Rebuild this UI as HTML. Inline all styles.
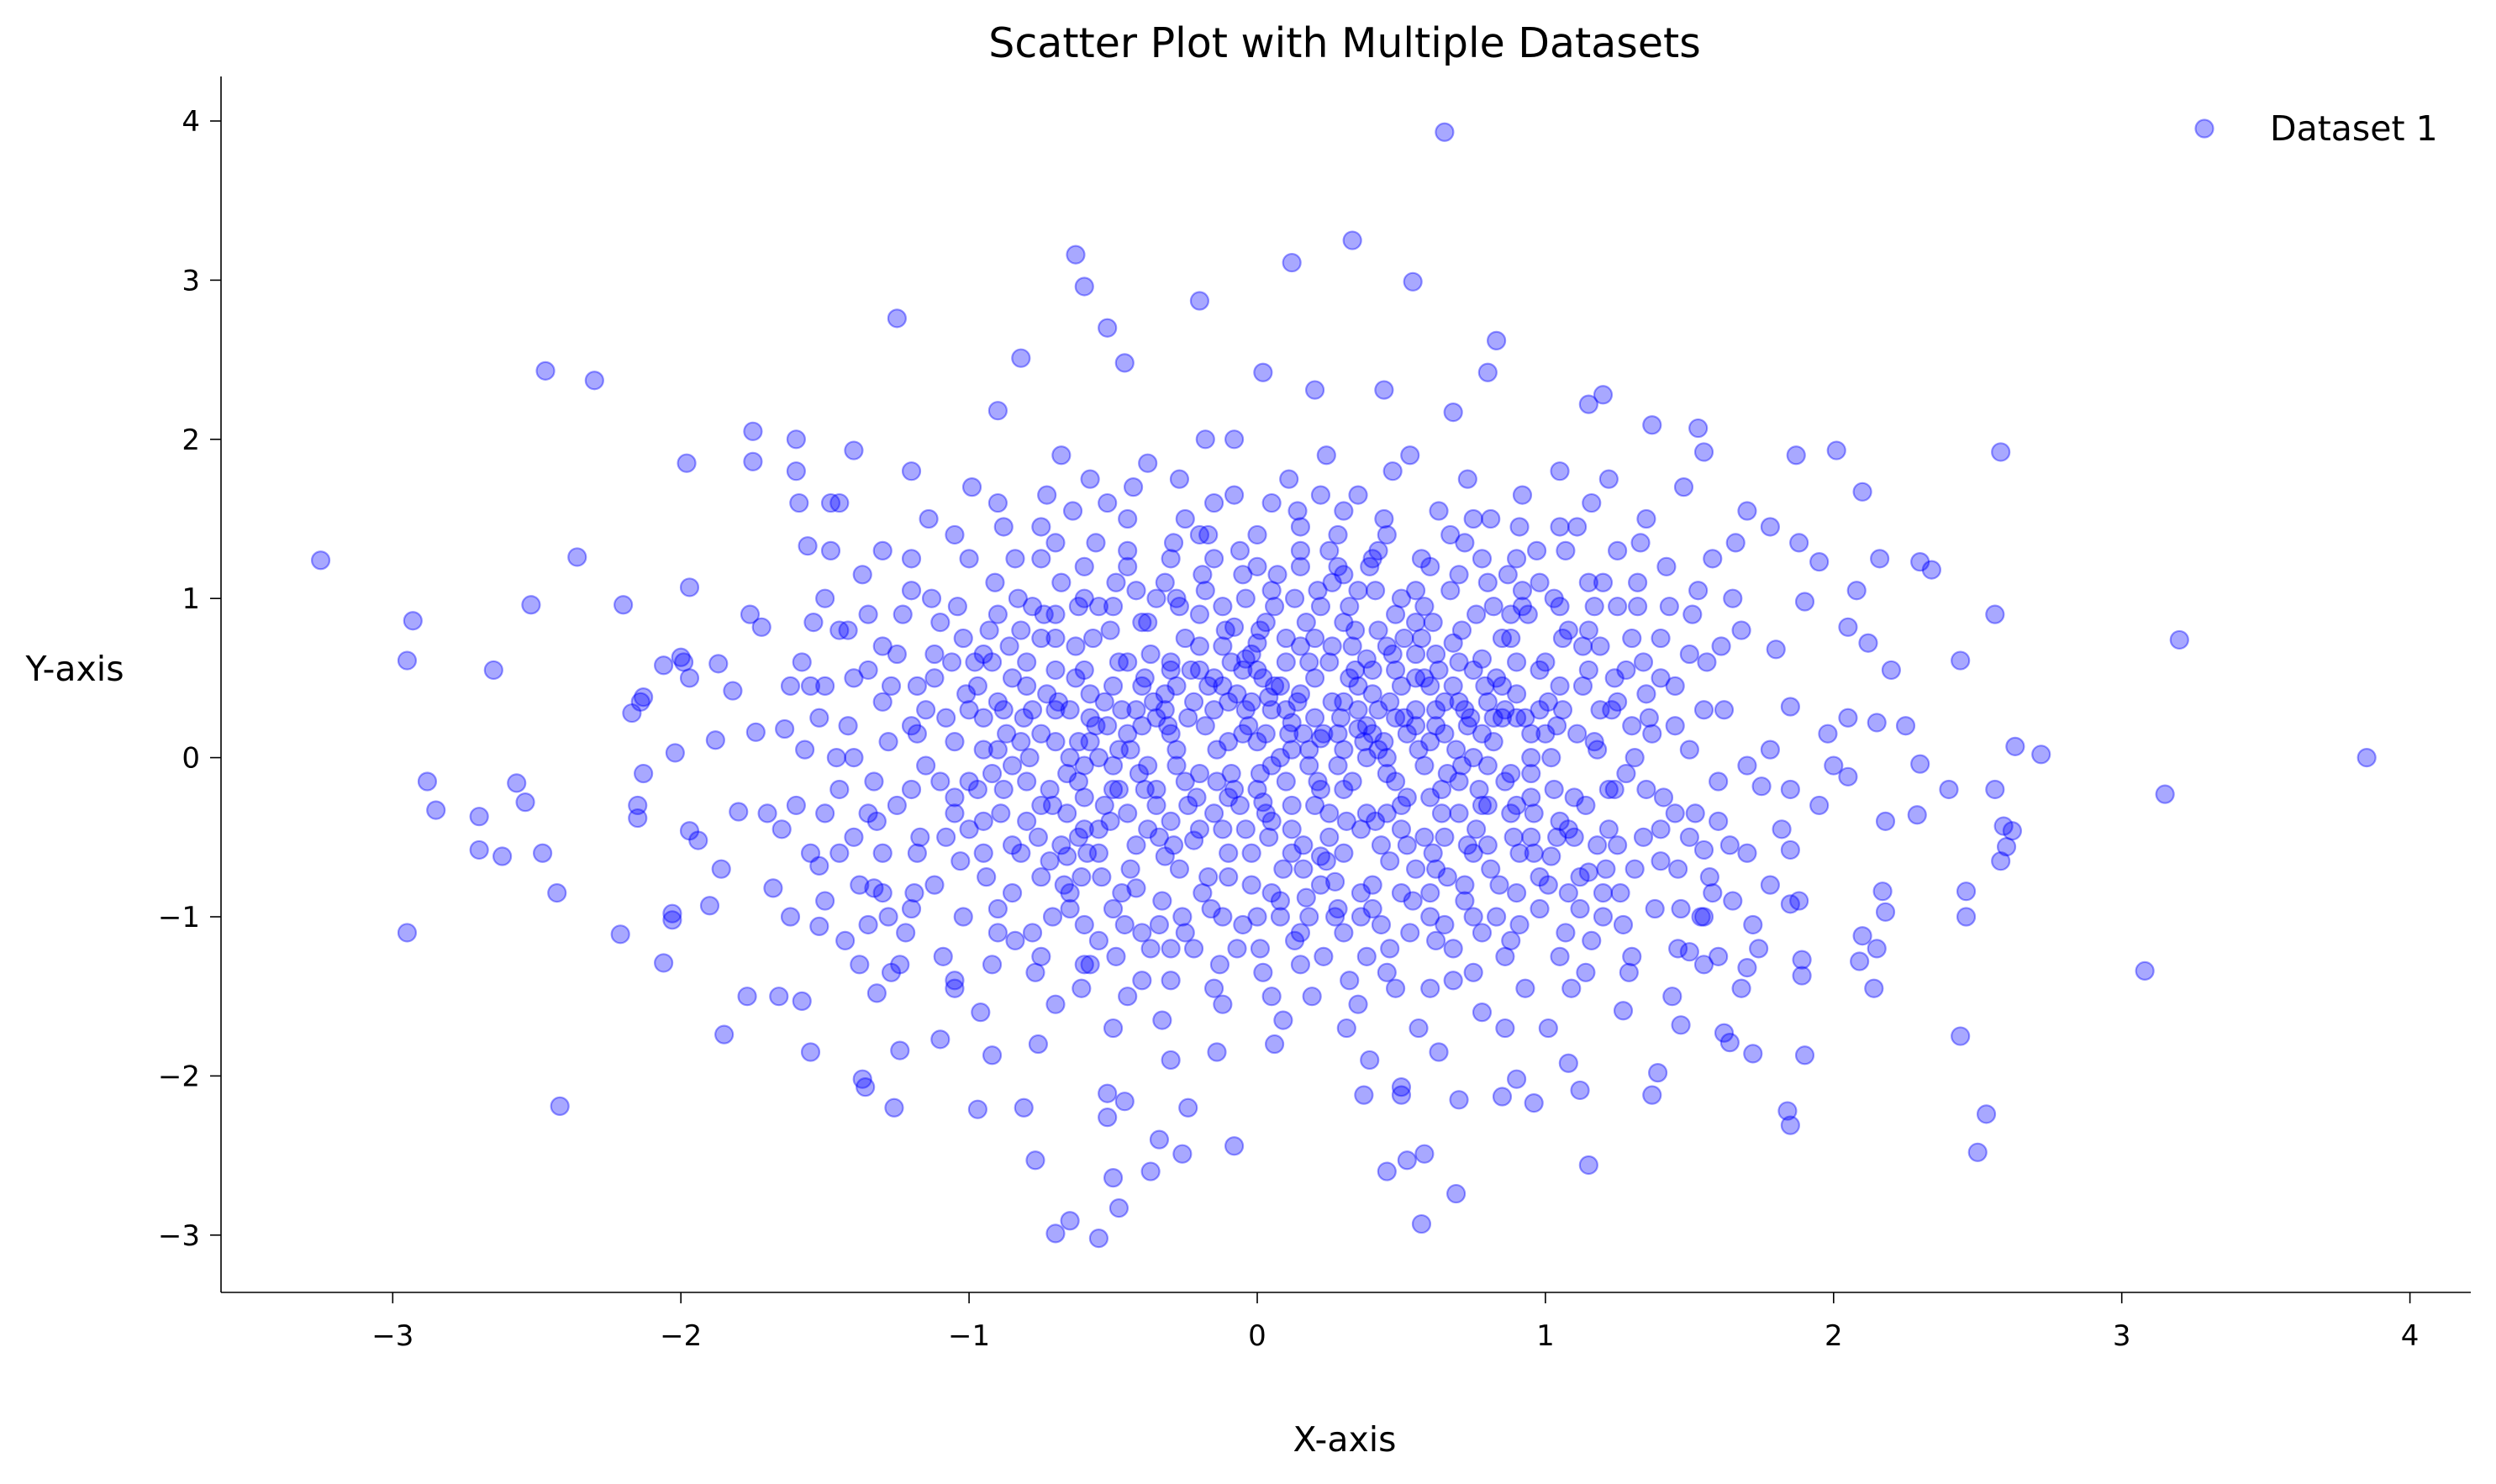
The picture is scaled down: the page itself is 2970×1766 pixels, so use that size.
<!DOCTYPE html>
<html><head><meta charset="utf-8"><style>
html,body{margin:0;padding:0;background:#fff;}
svg{display:block;font-family:"DejaVu Sans","Liberation Sans",sans-serif;}
</style></head><body>
<svg id="chart" width="2970" height="1766" viewBox="0 0 2970 1766">
<rect width="2970" height="1766" fill="#fff"/>
<g id="points"></g>
<g id="axes"></g>
</svg>
<script>
const xTicks=[-3,-2,-1,0,1,2,3,4];
const yTicks=[-3,-2,-1,0,1,2,3,4];
const seriesName="Dataset 1";
const outlierPts=[[-3.25,1.24],[-2.93,0.86],[-2.95,0.61],[-2.88,-0.15],[-2.85,-0.33],[-2.95,-1.1],[-2.7,-0.37],[-2.7,-0.58],[-2.65,0.55],[-2.62,-0.62],[-2.57,-0.16],[-2.54,-0.28],[-2.52,0.96],[-2.48,-0.6],[-2.47,2.43],[-2.43,-0.85],[-2.42,-2.19],[-2.36,1.26],[-2.3,2.37],[-2.2,0.96],[-2.21,-1.11],[-2.17,0.28],[-2.14,0.35],[-2.13,0.38],[-2.15,-0.3],[-2.15,-0.38],[-2.13,-0.1],[-2.06,0.58],[-2.06,-1.29],[-2.03,-1.02],[-2.03,-0.98],[-2.02,0.03],[-2.0,0.63],[-1.99,0.6],[-1.98,1.85],[-1.97,1.07],[-1.97,0.5],[-1.97,-0.46],[-1.94,-0.52],[-1.9,-0.93],[-1.88,0.11],[-1.87,0.59],[-1.86,-0.7],[-1.85,-1.74],[-1.82,0.42],[-1.8,-0.34],[-1.77,-1.5],[-1.76,0.9],[-1.75,2.05],[-1.75,1.86],[-1.74,0.16],[-1.72,0.82],[-1.7,-0.35],[-1.68,-0.82],[-1.66,-1.5],[-1.64,0.18],[-1.62,0.45],[-1.6,1.8],[-1.6,2.0],[-1.59,1.6],[-1.58,-1.53],[-1.56,1.33],[-1.55,-1.85],[-1.52,-0.68],[-1.52,-1.06],[-1.48,1.6],[-1.45,1.6],[-1.4,1.93],[-1.38,-1.3],[-1.36,-2.07],[-1.37,-2.02],[-1.32,-1.48],[-1.33,-0.82],[-1.25,2.76],[-1.27,-1.35],[-1.26,-2.2],[-1.24,-1.84],[-1.2,1.8],[-1.18,-0.6],[-1.1,-1.77],[-1.05,-1.4],[-0.97,-2.21],[-0.92,-1.87],[-0.9,2.18],[-0.82,2.51],[-0.81,-2.2],[-0.77,-2.53],[-0.7,-2.99],[-0.65,-2.91],[-0.55,-3.02],[-0.52,-2.11],[-0.52,-2.26],[-0.5,-2.64],[-0.48,-2.83],[-0.46,-2.16],[-0.37,-2.6],[-0.34,-2.4],[-0.26,-2.49],[-0.24,-2.2],[-0.08,-2.44],[-0.63,3.16],[-0.6,2.96],[-0.52,2.7],[-0.46,2.48],[-0.2,2.87],[0.12,3.11],[0.33,3.25],[0.54,2.99],[0.65,3.93],[0.02,2.42],[0.2,2.31],[0.44,2.31],[0.68,2.17],[0.8,2.42],[0.83,2.62],[1.15,2.22],[1.2,2.28],[1.37,2.09],[1.53,2.07],[1.55,1.92],[2.01,1.93],[1.87,1.9],[2.1,1.67],[2.58,1.92],[2.16,1.25],[2.3,1.23],[2.34,1.18],[2.08,1.05],[2.56,0.9],[3.2,0.74],[2.44,0.61],[2.63,0.07],[2.72,0.02],[3.85,0.0],[3.15,-0.23],[2.56,-0.2],[2.59,-0.43],[2.62,-0.46],[2.6,-0.56],[2.58,-0.65],[2.46,-0.84],[2.46,-1.0],[3.08,-1.34],[2.44,-1.75],[2.53,-2.24],[2.5,-2.48],[2.29,-0.36],[2.4,-0.2],[2.3,-0.04],[2.18,-0.4],[2.17,-0.84],[2.18,-0.97],[2.1,-1.12],[2.09,-1.28],[2.14,-1.45],[2.15,-1.2],[1.9,-1.87],[1.84,-2.22],[1.85,-2.31],[1.89,-1.37],[1.89,-1.27],[1.72,-1.86],[1.62,-1.73],[1.64,-1.79],[1.15,-2.56],[1.27,-1.59],[1.39,-1.98],[1.37,-2.12],[1.47,-1.68],[0.69,-2.74],[0.57,-2.93],[0.45,-2.6],[0.52,-2.53],[0.58,-2.49],[0.96,-2.17],[1.12,-2.09],[1.08,-1.92],[0.9,-2.02],[0.85,-2.13],[0.7,-2.15],[0.37,-2.12],[0.5,-2.07],[0.5,-2.12],[2.05,0.82],[2.2,0.55],[2.12,0.72],[2.15,0.22],[2.25,0.2],[2.05,0.25],[1.98,0.15],[2.0,-0.05],[2.05,-0.12],[1.95,-0.3],[1.9,0.98],[1.88,1.35],[1.95,1.23],[1.78,1.45],[1.7,1.55],[1.65,1.0],[1.8,0.68],[1.85,0.32],[1.78,0.05],[1.75,-0.18],[1.85,-0.2],[1.82,-0.45],[1.85,-0.58],[1.78,-0.8],[1.85,-0.92],[1.88,-0.9],[1.74,-1.2],[1.7,-1.32],[1.68,-1.45],[1.6,-1.25],[1.55,-1.3],[1.5,-1.22],[1.55,-0.58],[1.58,-0.85],[1.65,-0.9],[1.7,-0.6]];
const corePts=[[-1.5,1.0],[-1.45,0.8],[-1.4,0.5],[-1.42,0.2],[-1.45,-0.2],[-1.4,-0.5],[-1.38,-0.8],[-1.35,-1.05],[-1.3,1.3],[-1.3,0.7],[-1.28,0.1],[-1.25,-0.3],[-1.22,-1.1],[-1.2,1.05],[-1.18,0.45],[-1.15,-0.05],[-1.12,-0.8],[-1.1,0.85],[-1.08,0.25],[-1.05,-0.35],[-1.02,-1.0],[-1.0,1.25],[-0.98,0.6],[-0.95,0.05],[-0.95,-0.6],[-0.92,-1.3],[-0.9,1.6],[-0.9,0.35],[-0.88,-0.2],[-0.85,-0.85],[-0.83,1.0],[-0.8,0.45],[-0.8,-0.4],[-0.78,-1.1],[-0.75,1.45],[-0.75,0.15],[-0.72,-0.65],[-0.7,-1.55],[-0.7,0.75],[-0.68,1.9],[-0.66,-0.1],[-0.65,-0.95],[-0.63,0.5],[-0.6,1.2],[-0.6,-0.45],[-0.58,-1.3],[-0.56,0.2],[-0.55,0.95],[-0.54,-0.75],[-0.52,1.6],[-0.5,-0.2],[-0.5,-1.7],[-0.48,0.6],[-0.46,-1.05],[-0.45,1.3],[-0.44,0.05],[-0.42,-0.55],[-0.4,0.85],[-0.4,-1.4],[-0.38,1.85],[-0.36,0.35],[-0.35,-0.3],[-0.33,-0.9],[-0.32,1.1],[-0.3,-1.9],[-0.3,0.6],[-0.28,-0.05],[-0.27,-0.7],[-0.25,1.5],[-0.24,0.25],[-0.22,-1.2],[-0.2,0.9],[-0.2,-0.45],[-0.18,2.0],[-0.17,0.45],[-0.16,-0.95],[-0.15,1.25],[-0.14,-0.15],[-0.12,-1.55],[-0.12,0.7],[-0.1,0.1],[-0.1,-0.6],[-0.08,1.65],[-0.07,0.4],[-0.06,-0.3],[-0.05,-1.05],[-0.04,1.0],[-0.03,0.2],[-0.02,-0.8],[0.0,1.4],[0.0,0.55],[0.01,-0.1],[0.02,-1.35],[0.03,0.85],[0.04,-0.5],[0.05,0.3],[0.06,-1.8],[0.07,1.15],[0.08,0.0],[0.09,-0.7],[0.1,0.6],[0.11,1.75],[0.12,-0.3],[0.13,-1.15],[0.14,0.35],[0.15,1.3],[0.16,-0.55],[0.17,0.85],[0.18,-0.05],[0.19,-1.5],[0.2,0.5],[0.21,1.05],[0.22,-0.8],[0.23,0.15],[0.24,1.9],[0.25,-0.35],[0.26,0.7],[0.27,-1.0],[0.28,1.4],[0.29,0.25],[0.3,-0.6],[0.31,-1.7],[0.32,0.95],[0.33,-0.15],[0.34,0.55],[0.35,1.65],[0.36,-0.85],[0.37,0.1],[0.38,-1.25],[0.39,1.2],[0.4,0.4],[0.41,-0.4],[0.42,0.8],[0.43,-1.05],[0.44,1.5],[0.45,0.0],[0.46,-0.65],[0.47,0.65],[0.48,-1.45],[0.5,1.0],[0.51,0.25],[0.52,-0.25],[0.53,1.9],[0.54,-0.9],[0.55,0.5],[0.56,-1.7],[0.57,1.25],[0.58,-0.5],[0.6,0.1],[0.61,0.85],[0.62,-1.15],[0.63,1.55],[0.64,-0.2],[0.65,0.35],[0.66,-0.75],[0.67,1.05],[0.68,-1.4],[0.7,0.6],[0.71,-0.05],[0.72,1.35],[0.73,-0.55],[0.74,0.25],[0.75,-1.0],[0.76,0.9],[0.78,-1.6],[0.79,0.45],[0.8,-0.3],[0.81,1.5],[0.82,0.1],[0.84,-0.8],[0.85,0.75],[0.86,-1.25],[0.87,1.15],[0.88,-0.1],[0.9,0.4],[0.91,-0.6],[0.92,1.65],[0.93,-1.45],[0.94,0.9],[0.95,0.15],[0.96,-0.35],[0.97,1.3],[0.98,-0.95],[1.0,0.6],[1.01,-1.7],[1.02,0.0],[1.03,1.0],[1.04,-0.5],[1.05,1.8],[1.06,0.3],[1.07,-1.1],[1.08,0.8],[1.1,-0.25],[1.11,1.45],[1.12,-0.75],[1.13,0.45],[1.14,-1.35],[1.15,1.1],[1.17,0.1],[1.18,-0.55],[1.19,0.7],[1.2,-1.0],[1.22,1.75],[1.23,0.3],[1.24,-0.2],[1.25,1.3],[1.26,-0.85],[1.28,0.55],[1.3,-1.25],[1.31,0.0],[1.32,0.95],[1.34,-0.5],[1.35,1.5],[1.36,0.25],[1.38,-0.95],[1.4,0.75],[1.41,-0.25],[1.42,1.2],[1.44,-1.5],[1.45,0.45],[1.46,-0.7],[1.48,1.7],[1.5,0.05],[1.51,0.9],[1.52,-0.35],[1.54,-1.0],[1.56,0.6],[1.58,1.25],[1.6,-0.15],[1.62,0.3],[1.64,-0.55],[1.66,1.35],[1.68,0.8],[1.7,-0.05],[1.72,-1.05],[-1.6,-0.3],[-1.58,0.6],[-1.55,-0.6],[-1.52,0.25],[-1.5,-0.9],[-1.48,1.3],[-1.46,0.0],[-1.35,0.9],[-1.33,-0.15],[-1.3,-0.6],[-1.27,0.45],[-1.24,-1.3],[-1.2,0.2],[-1.17,-0.5],[-1.14,1.5],[-1.1,-0.15],[-1.06,0.6],[-1.03,-0.65],[-0.99,1.7],[-0.97,-0.2],[-0.93,0.8],[-0.9,-0.95],[-0.87,0.15],[-0.84,1.25],[-0.82,-0.6],[-0.79,0.0],[-0.77,-1.35],[-0.74,0.9],[-0.71,-0.3],[-0.69,0.35],[-0.67,-0.8],[-0.64,1.55],[-0.62,0.1],[-0.59,-0.6],[-0.57,0.75],[-0.55,-1.15],[-0.53,0.35],[-0.51,-0.4],[-0.49,1.1],[-0.47,-0.85],[-0.45,0.15],[-0.43,1.7],[-0.41,-0.1],[-0.39,0.5],[-0.37,-1.2],[-0.35,1.0],[-0.34,-0.5],[-0.31,0.2],[-0.29,1.35],[-0.26,-1.0],[-0.23,0.55],[-0.21,-0.25],[-0.19,1.15],[-0.17,-0.75],[-0.15,0.3],[-0.13,-1.3],[-0.11,0.8],[-0.09,-0.1],[-0.06,1.3],[-0.04,-0.45],[-0.02,0.65],[0.01,-1.2],[0.03,0.15],[0.06,0.95],[0.08,-0.9],[0.1,0.3],[0.12,-0.45],[0.14,1.55],[0.16,0.15],[0.18,-1.0],[0.2,0.75],[0.22,-0.2],[0.24,-0.65],[0.26,1.1],[0.28,-0.05],[0.3,0.35],[0.32,-1.4],[0.34,0.8],[0.36,-0.45],[0.38,0.2],[0.4,-0.8],[0.42,1.3],[0.44,0.1],[0.46,-1.2],[0.48,0.9],[0.5,-0.45],[0.52,0.15],[0.55,-0.7],[0.57,0.75],[0.6,-1.0],[0.62,0.3],[0.64,-0.35],[0.67,1.4],[0.69,0.05],[0.72,-0.8],[0.75,0.55],[0.77,-0.2],[0.8,1.1],[0.83,-1.0],[0.86,0.3],[0.89,-0.5],[0.92,0.95],[0.95,-0.1],[0.98,0.55],[1.01,-0.8],[1.04,0.2],[1.07,1.3],[1.1,-0.5],[1.13,0.7],[1.16,-1.15],[1.19,0.3],[1.22,-0.45],[1.25,0.95],[1.28,-0.1],[1.31,-0.7],[1.34,0.6],[1.37,0.15],[1.4,-0.45],[1.43,0.95],[1.46,-1.2],[-0.02,0.35],[0.0,-0.2],[0.02,0.5],[-0.05,0.15],[0.05,-0.05],[0.15,0.4],[-0.15,0.5],[0.25,0.6],[-0.25,-0.15],[0.35,0.3],[-0.35,0.25],[0.45,-0.1],[-0.45,-0.35],[0.55,0.2],[-0.55,0.0],[0.65,-0.5],[-0.65,0.3],[0.75,0.0],[-0.75,-0.3],[0.85,0.25],[-0.85,0.5],[0.95,-0.25],[-0.95,0.25],[1.05,0.45],[-1.05,0.1],[0.2,-0.3],[-0.2,0.7],[0.3,0.05],[-0.3,-0.4],[0.1,0.75],[-0.1,-0.75],[0.4,0.55],[-0.4,0.2],[0.5,-0.3],[-0.5,0.45],[0.6,0.45],[-0.6,-0.25],[0.7,-0.35],[-0.7,0.55],[0.8,0.35],[-0.8,-0.15],[0.9,-0.3],[-0.9,0.05],[1.0,0.15],[-1.0,-0.45],[-1.65,-0.45],[-1.62,-1.0],[-1.57,0.05],[-1.54,0.85],[-1.43,-1.15],[-1.37,1.15],[-1.32,-0.4],[-1.23,0.9],[-1.19,-0.85],[-1.13,1.0],[-1.09,-1.25],[-1.01,0.4],[-0.96,-1.6],[-0.88,1.45],[-0.76,-1.8],[-0.73,1.65],[-0.61,-1.45],[-0.58,1.75],[-0.33,-1.65],[-0.27,1.75],[-0.14,-1.85],[-0.08,2.0],[0.09,-1.65],[0.22,1.65],[0.39,-1.9],[0.47,1.8],[0.63,-1.85],[0.73,1.75],[0.86,-1.7],[0.91,1.45],[1.09,-1.45],[1.16,1.6],[1.29,-1.35],[1.33,1.35],[1.47,-0.95],[1.53,1.05],[1.57,-0.75],[1.61,0.7]];
const densePts=[[-1.15,0.3],[-1.12,0.65],[-1.08,-0.5],[-1.04,0.95],[-1.0,-0.15],[-0.97,0.45],[-0.94,-0.75],[-0.91,1.1],[-0.89,-0.35],[-0.86,0.7],[-0.84,-1.15],[-0.81,0.25],[-0.78,0.95],[-0.76,-0.5],[-0.73,0.4],[-0.71,-1.0],[-0.68,1.1],[-0.66,-0.35],[-0.63,0.7],[-0.61,-0.75],[-0.58,0.4],[-0.56,1.35],[-0.53,-0.3],[-0.51,0.8],[-0.49,-1.25],[-0.47,0.3],[-0.44,-0.7],[-0.42,1.05],[-0.39,-0.2],[-0.37,0.65],[-0.34,-1.05],[-0.32,0.4],[-0.29,-0.55],[-0.27,0.95],[-0.24,-0.3],[-0.22,0.35],[-0.19,-0.85],[-0.17,1.4],[-0.14,0.05],[-0.12,-0.45],[-0.09,0.6],[-0.07,-1.2],[-0.04,0.3],[-0.02,-0.6],[0.01,0.8],[0.03,-0.35],[0.06,0.45],[0.08,-1.0],[0.11,0.15],[0.13,1.0],[0.16,-0.7],[0.18,0.6],[0.21,-0.15],[0.23,-1.25],[0.26,0.35],[0.28,1.2],[0.31,-0.4],[0.33,0.7],[0.36,-1.0],[0.38,0.0],[0.41,1.05],[0.43,-0.55],[0.46,0.35],[0.48,-0.15],[0.51,0.75],[0.53,-1.1],[0.56,0.05],[0.58,0.95],[0.61,-0.6],[0.63,0.55],[0.66,-0.1],[0.68,-1.2],[0.71,0.8],[0.73,0.2],[0.76,-0.45],[0.78,1.25],[0.81,-0.7],[0.83,0.5],[0.86,-0.15],[0.88,0.9],[0.91,-1.05],[0.93,0.25],[0.96,-0.6],[0.98,1.1],[1.01,0.35],[1.03,-0.2],[1.06,0.75],[1.08,-0.85],[1.11,0.15],[1.14,-0.3],[1.17,0.95],[1.21,-0.7],[1.24,0.5],[1.27,-1.05],[1.3,0.2],[-0.3,0.15],[-0.2,-0.1],[-0.1,0.35],[0.0,0.1],[0.1,-0.15],[0.2,0.25],[0.3,-0.2],[0.4,0.15],[0.5,0.45],[0.6,-0.25],[-0.4,0.45],[-0.5,-0.05],[-0.6,0.55],[-0.7,0.1],[-0.8,0.6],[0.7,0.35],[0.8,-0.05],[0.9,0.6],[-0.25,0.75],[-0.15,-0.35],[-0.05,0.55],[0.05,-0.4],[0.15,0.7],[0.25,-0.5],[0.35,0.45],[0.45,-0.35],[0.55,0.65],[0.65,0.15],[-0.35,-0.2],[-0.45,0.6],[-0.55,-0.45],[-0.65,0.0],[-0.75,0.75],[-0.85,-0.05],[-0.95,0.65],[0.75,-0.6],[0.85,0.45],[0.95,0.0],[1.05,-0.4],[1.15,0.55],[-0.18,0.2],[0.18,0.05],[-0.08,-0.2],[0.08,0.45],[0.28,0.15],[-0.28,0.45],[0.38,-0.35],[-0.38,-0.45],[0.48,0.25],[-0.48,0.05],[0.58,-0.05],[-0.58,0.25],[0.68,0.45],[-0.68,-0.55],[0.78,0.15],[-0.78,0.3],[0.88,-0.35],[-0.88,0.3],[-1.2,-0.2],[-1.3,0.35],[-1.4,0.0],[-1.35,-0.35],[-1.25,0.65],[-1.5,0.45],[-1.45,-0.6],[1.35,-0.2],[1.45,0.2],[1.4,0.5],[1.5,-0.5],[1.55,0.3],[1.6,-0.4],[1.3,0.75],[1.25,-0.55],[-0.3,-1.2],[0.0,-1.0],[0.3,-1.1],[-0.6,-1.05],[0.6,-0.85],[-0.9,-1.1],[0.9,-0.85],[-0.3,1.25],[0.0,1.2],[0.3,1.15],[-0.6,1.0],[0.6,1.2],[-0.9,0.9],[0.9,1.25],[-0.15,-1.45],[0.15,-1.3],[-0.45,-1.5],[0.45,-1.35],[-0.15,1.6],[0.15,1.45],[-0.45,1.5],[0.45,1.4],[-1.2,-0.95],[1.2,-0.85],[-1.2,1.25],[1.2,1.1],[-1.05,1.4],[1.05,1.45],[-1.05,-1.45],[1.05,-1.25],[-0.75,-1.25],[0.75,-1.35],[-0.75,1.25],[0.75,1.5]];
const extraPts=[[-0.12,0.45],[-0.04,0.62],[0.04,0.38],[0.12,0.22],[0.22,-0.62],[0.27,-0.78],[0.17,-0.88],[0.12,-0.6],[-0.22,-0.52],[-0.32,-0.62],[-0.42,-0.82],[-0.62,-0.5],[-0.55,-0.6],[-0.66,-0.62],[-0.72,-0.2],[-0.62,-0.15],[-0.58,0.1],[-0.52,0.2],[-0.42,0.3],[-0.32,0.3],[-0.08,0.82],[0.0,0.72],[0.22,0.95],[0.32,0.5],[0.42,0.3],[0.52,-0.55],[0.62,-0.7],[0.72,-0.9],[0.8,-0.55],[0.95,-0.5],[1.02,-0.62],[1.08,-0.45],[1.15,-0.72],[0.82,0.25],[0.9,0.25],[0.98,0.3],[0.72,0.3],[0.62,0.65],[0.55,0.85],[0.45,0.7],[0.35,1.05],[0.25,1.3],[0.15,1.2],[0.05,1.05],[-0.05,1.15],[-0.18,1.05],[-0.28,1.0],[-0.38,0.85],[-0.5,0.95],[-0.62,0.95],[-0.7,0.9],[-0.82,0.8],[-0.92,0.6],[-1.02,0.75],[-1.12,0.5],[-1.18,0.15],[-1.05,-0.25],[-0.95,-0.4],[-0.85,-0.55],[-0.75,-0.75],[-0.65,-0.85],[-0.5,-0.95],[-0.4,-1.1],[-0.25,-1.1],[-0.12,-1.0],[0.05,-0.85],[0.15,-1.1],[0.28,-0.95],[0.4,-0.95],[0.5,-0.85],[0.65,-1.05],[0.78,-1.1],[0.88,-1.15],[0.98,-0.75],[1.12,-0.95],[1.22,-0.2],[1.18,0.05],[1.25,0.35],[1.15,0.8],[1.05,0.95],[0.92,1.05],[0.82,0.95],[0.7,1.15],[0.55,1.05],[0.4,1.25],[-0.1,-0.25],[0.02,-0.28],[0.12,0.05],[0.22,0.12],[0.35,0.18],[0.42,0.05],[0.55,0.3],[0.62,0.2],[0.7,-0.15],[0.78,-0.3],[-0.28,0.05],[-0.38,-0.05],[-0.48,-0.2],[-0.6,-0.05],[-0.7,0.3],[-0.82,0.1],[-0.92,-0.1],[-1.0,0.3],[-0.2,0.55],[-0.3,0.55],[-0.12,0.95],[0.3,0.85],[0.38,0.62],[0.48,0.55],[0.58,0.5],[0.68,0.72],[0.78,0.62],[0.88,0.75],[-1.35,0.55],[-1.42,0.8],[-1.3,-0.85],[-1.28,-1.0],[-1.5,-0.35],[-1.55,0.45],[1.35,0.4],[1.4,-0.65],[1.45,-0.35],[1.5,0.65],[1.55,-1.0],[1.32,1.1],[-0.2,1.4],[0.05,1.6],[0.3,1.55],[-0.45,1.2],[-0.7,1.35],[-0.3,-1.4],[0.05,-1.5],[0.35,-1.55],[-0.6,-1.3],[0.6,-1.45]];
const allPts=outlierPts.concat(corePts,densePts,extraPts);
const L=263,R=2940,T=91,B=1538;
const X0=1496,XU=342.9,Y0=901.6,YU=189.4;
const sx=v=>X0+v*XU, sy=v=>Y0-v*YU;
const NS="http://www.w3.org/2000/svg";
function mk(tag,attrs,parent){const e=document.createElementNS(NS,tag);for(const k in attrs)e.setAttribute(k,attrs[k]);parent.appendChild(e);return e;}
const pg=document.getElementById('points');
allPts.forEach(p=>{
  const c=mk('circle',{cx:sx(p[0]),cy:sy(p[1]),r:10.5,fill:'rgba(0,0,255,0.34)',stroke:'rgba(0,0,255,0.4)','stroke-width':2.2},pg);
  
  
});
const ax=document.getElementById('axes');
const l1=mk('line',{x1:L,y1:T,x2:L,y2:B,stroke:'#000','stroke-width':1.6},ax);


const l2=mk('line',{x1:L,y1:B,x2:R,y2:B,stroke:'#000','stroke-width':1.6},ax);


xTicks.forEach(t=>{
  const x=sx(t);
  const tk=mk('line',{x1:x,y1:B,x2:x,y2:B+13,stroke:'#000','stroke-width':1.6},ax);
  
  
  const tx=mk('text',{x:x,y:B+63,'font-size':34,'text-anchor':'middle',fill:'#000'},ax);
  tx.textContent=(t<0?'\u2212'+(-t):String(t));
  
  
});
yTicks.forEach(t=>{
  const y=sy(t);
  const tk=mk('line',{x1:L-13,y1:y,x2:L,y2:y,stroke:'#000','stroke-width':1.6},ax);
  
  
  const tx=mk('text',{x:L-25,y:y+12,'font-size':34,'text-anchor':'end',fill:'#000'},ax);
  tx.textContent=(t<0?'\u2212'+(-t):String(t));
  
  
});
const title=mk('text',{x:1600,y:68,'font-size':49,'text-anchor':'middle',fill:'#000'},ax);
title.textContent='Scatter Plot with Multiple Datasets';


const xl=mk('text',{x:1600,y:1727,'font-size':41,'text-anchor':'middle',fill:'#000'},ax);
xl.textContent='X-axis';


const yl=mk('text',{x:89,y:810,'font-size':41,'text-anchor':'middle',fill:'#000'},ax);
yl.textContent='Y-axis';


const lg=mk('g',{},ax);


const lm=mk('circle',{cx:2623,cy:153,r:10.5,fill:'rgba(0,0,255,0.34)',stroke:'rgba(0,0,255,0.4)','stroke-width':2.2},lg);


const lt=mk('text',{x:2701,y:167,'font-size':41,fill:'#000'},lg);
lt.textContent=seriesName;


</script>
</body></html>
